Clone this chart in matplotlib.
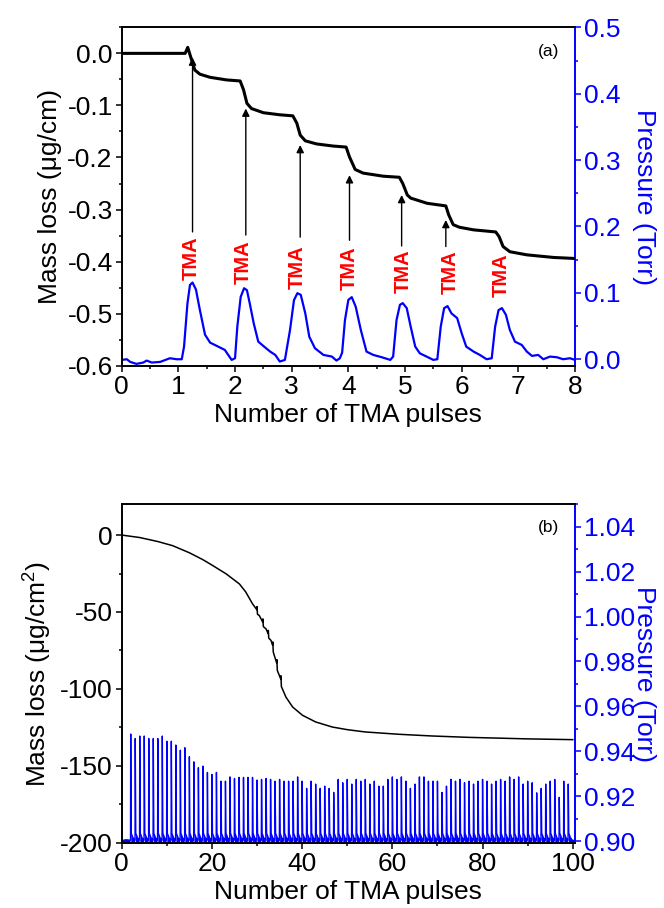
import numpy as np
import matplotlib.pyplot as plt
from matplotlib.ticker import MultipleLocator, FormatStrFormatter

plt.rcParams.update({
    'font.family': ['Liberation Sans', 'DejaVu Sans'],
    'font.size': 19,
    'mathtext.fontset': 'custom',
    'mathtext.rm': 'Liberation Sans',
    'mathtext.default': 'regular',
    'axes.unicode_minus': False,
})

# ---------------- panel (a) data ----------------
mass_a_x = [0, 0.5, 1.0, 1.12, 1.165, 1.235, 1.29, 1.38, 1.56, 1.85, 2.09, 2.15, 2.21, 2.29,
            2.50, 2.79, 3.02, 3.09, 3.15, 3.24, 3.44, 3.73, 3.96, 4.02, 4.12, 4.26, 4.62, 4.90,
            4.96, 5.04, 5.10, 5.39, 5.72, 5.77, 5.85, 5.96, 6.21, 6.60, 6.66, 6.73, 6.85, 7.15,
            7.62, 8.0]
mass_a_y = [0, 0, 0, 0, 0.0115, -0.013, -0.032, -0.040, -0.046, -0.051, -0.053, -0.070, -0.096,
            -0.106, -0.114, -0.118, -0.120, -0.134, -0.157, -0.168, -0.174, -0.178, -0.180,
            -0.199, -0.223, -0.230, -0.236, -0.238, -0.250, -0.272, -0.278, -0.288, -0.293,
            -0.310, -0.329, -0.334, -0.339, -0.343, -0.352, -0.371, -0.381, -0.387, -0.392, -0.394]

press_a_x = [0, 0.09, 0.15, 0.26, 0.38, 0.44, 0.53, 0.68, 0.85, 0.97, 1.06, 1.10, 1.16, 1.205,
             1.25, 1.31, 1.38, 1.47, 1.56, 1.68, 1.82, 1.88, 1.94, 2.0, 2.04, 2.10, 2.16, 2.21,
             2.26, 2.33, 2.41, 2.50, 2.62, 2.71, 2.79, 2.88, 2.97, 3.04, 3.10, 3.16, 3.24, 3.31,
             3.41, 3.56, 3.71, 3.79, 3.85, 3.89, 3.94, 4.0, 4.06, 4.13, 4.22, 4.32, 4.44, 4.59,
             4.74, 4.79, 4.85, 4.91, 4.96, 5.03, 5.10, 5.18, 5.26, 5.38, 5.50, 5.57, 5.63, 5.69,
             5.75, 5.82, 5.92, 6.0, 6.08, 6.21, 6.32, 6.44, 6.53, 6.59, 6.65, 6.71, 6.78, 6.85,
             6.94, 7.06, 7.15, 7.24, 7.35, 7.44, 7.56, 7.68, 7.79, 7.91, 8.0]
press_a_y = [-0.001, 0.0, -0.004, -0.007, -0.005, -0.002, -0.005, -0.004, 0.0015, 0.0, 0.0,
             0.019, 0.084, 0.112, 0.1155, 0.105, 0.074, 0.037, 0.025, 0.020, 0.014, 0.0065,
             -0.001, 0.0015, 0.049, 0.094, 0.107, 0.104, 0.084, 0.054, 0.0265, 0.020, 0.0115,
             0.0065, -0.0035, -0.001, 0.044, 0.089, 0.0995, 0.097, 0.069, 0.034, 0.0166, 0.0065,
             0.004, -0.002, 0.0015, 0.010, 0.059, 0.0895, 0.0935, 0.079, 0.044, 0.0115, 0.0065,
             0.003, -0.001, 0.004, 0.059, 0.082, 0.0845, 0.077, 0.049, 0.019, 0.009, 0.004,
             -0.001, 0.0, 0.049, 0.077, 0.080, 0.069, 0.062, 0.039, 0.019, 0.0115, 0.0065, 0.0,
             0.0015, 0.049, 0.074, 0.077, 0.067, 0.044, 0.0265, 0.0215, 0.0115, 0.005, 0.0065,
             0.0, 0.004, 0.003, 0.0, 0.0015, -0.001]

arrow_x = [1.25, 2.19, 3.15, 4.02, 4.94, 5.72]
arrow_base = [-0.343, -0.349, -0.353, -0.359, -0.370, -0.371]
arrow_tip = [-0.008, -0.106, -0.176, -0.234, -0.272, -0.320]
tma_x = [1.235, 2.15, 3.10, 4.02, 4.97, 5.79, 6.69]
tma_y = [-0.393, -0.401, -0.410, -0.413, -0.418, -0.421, -0.427]

# ---------------- panel (b) data ----------------
mass_b_x = [0, 4, 8, 11.3, 15, 18, 20, 23.2, 26.1, 27.5, 29.0, 29.95, 30.0, 30.1, 30.5,
            31.25, 31.3, 31.4, 32.0, 32.45, 32.5, 32.6, 33.1, 33.45, 33.5, 33.6, 33.8, 34.35,
            34.4, 34.5, 35.25, 35.3, 35.4, 36.4, 37.9, 40.1, 43.0, 46.7, 50, 54, 61.4, 68.7,
            76.8, 90, 100]
mass_b_y = [0, -1.6, -4.2, -6.9, -11.5, -16.0, -19.5, -25.3, -31.8, -37.0, -44.7, -48.5,
            -46.5, -51.5, -52.3, -56.5, -54.5, -59.5, -61.0, -64.0, -62.0, -67.0, -68.5, -71.5,
            -69.5, -76.0, -78.0, -83.0, -81.0, -88.0, -93.5, -91.5, -98.5, -105.3, -111.8,
            -117.2, -121.5, -124.8, -126.5, -128.0, -129.5, -130.6, -131.5, -132.5, -133.0]

pulse_b_first = 2
pulse_b_peaks = [0.9477, 0.9457, 0.9468, 0.9468, 0.9457, 0.9457, 0.9457, 0.9468, 0.9445, 0.9445,
                 0.9428, 0.9405, 0.9416, 0.9376, 0.9353, 0.9327, 0.9334, 0.9306, 0.9297, 0.9306,
                 0.9267, 0.9267, 0.9286, 0.9279, 0.9284, 0.9284, 0.9284, 0.9284, 0.9272, 0.9275,
                 0.9279, 0.9275, 0.9267, 0.9275, 0.9267, 0.9267, 0.9267, 0.9286, 0.9267, 0.9235,
                 0.9267, 0.9254, 0.9235, 0.9245, 0.9235, 0.9217, 0.9275, 0.9260, 0.9275, 0.9254,
                 0.9275, 0.9267, 0.9275, 0.9254, 0.9267, 0.9245, 0.9245, 0.9275, 0.9286, 0.9275,
                 0.9286, 0.9267, 0.9235, 0.9254, 0.9286, 0.9286, 0.9267, 0.9267, 0.9267, 0.9217,
                 0.9245, 0.9275, 0.9267, 0.9275, 0.9260, 0.9267, 0.9254, 0.9267, 0.9275, 0.9267,
                 0.9254, 0.9267, 0.9275, 0.9267, 0.9286, 0.9275, 0.9286, 0.9254, 0.9267, 0.9260,
                 0.9215, 0.9235, 0.9254, 0.9267, 0.9275, 0.9195, 0.9267, 0.9254]

BLUE = '#0000ff'


def style_axes(ax, ax2):
    ax.spines['right'].set_visible(False)
    for s in ['left', 'top', 'bottom']:
        ax.spines[s].set_linewidth(1.4)
        ax2.spines[s].set_visible(False)
    ax2.spines['right'].set_color(BLUE)
    ax2.spines['right'].set_linewidth(1.4)
    ax.tick_params(which='both', direction='out', width=1.1, top=False, right=False)
    ax.tick_params(which='major', length=4.5, pad=2)
    ax.tick_params(which='minor', length=2.5)
    ax2.tick_params(which='both', direction='out', width=1.1, colors=BLUE)
    ax2.tick_params(which='major', length=4.5, pad=2)
    ax2.tick_params(which='minor', length=2.5)
    ax2.yaxis.label.set_verticalalignment('center')
    ax2.yaxis.set_label_coords(1.152, 0.5)


fig = plt.figure(figsize=(6.64, 9.08), dpi=100)

# ---------------- panel (a) ----------------
axa = fig.add_axes([0.1833, 0.5972, 0.6827, 0.3727])
axa2 = axa.twinx()
axa.set_zorder(axa2.get_zorder() + 1)
axa.patch.set_visible(False)

axa.plot(mass_a_x, mass_a_y, color='black', lw=2.2)
axa2.plot(press_a_x, press_a_y, color=BLUE, lw=1.6)

for x, b, t in zip(arrow_x, arrow_base, arrow_tip):
    axa.annotate('', xy=(x, t), xytext=(x, b),
                 arrowprops=dict(arrowstyle='-|>', color='black', lw=1.0,
                                 mutation_scale=11, shrinkA=0, shrinkB=0))
for x, y in zip(tma_x, tma_y):
    axa.text(x, y, 'TMA', rotation=90, ha='center', va='center', color='#ff0000',
             fontsize=14.5, fontweight='bold')

axa.set_xlim(0, 8)
axa.set_ylim(-0.6, 0.05)
axa2.set_ylim(-0.0098, 0.5)
axa.xaxis.set_major_locator(MultipleLocator(1))
axa.xaxis.set_minor_locator(MultipleLocator(0.5))
axa.yaxis.set_major_locator(MultipleLocator(0.1))
axa.yaxis.set_minor_locator(MultipleLocator(0.05))
axa.yaxis.set_major_formatter(FormatStrFormatter('%.1f'))
axa2.yaxis.set_major_locator(MultipleLocator(0.1))
axa2.yaxis.set_minor_locator(MultipleLocator(0.05))
axa2.yaxis.set_major_formatter(FormatStrFormatter('%.1f'))

axa.set_xlabel('Number of TMA pulses', labelpad=3)
axa.set_ylabel('Mass loss (μg/cm)', labelpad=4)
axa2.set_ylabel('Pressure (Torr)', color=BLUE, rotation=270)
style_axes(axa, axa2)
axa.text(0.965, 0.93, '(a)', transform=axa.transAxes, ha='right', va='center', fontsize=12.5)

# ---------------- panel (b) ----------------
axb = fig.add_axes([0.1833, 0.0719, 0.6827, 0.3727])
axb2 = axb.twinx()
axb.set_zorder(axb2.get_zorder() + 1)
axb.patch.set_visible(False)

axb.plot(mass_b_x, mass_b_y, color='black', lw=1.1)

# each pulse drawn as a sharp spike with a short low tail
px, py = [0.0, 1.0], [0.9003, 0.9006]
for i, h in enumerate(pulse_b_peaks):
    x0 = pulse_b_first + i
    px += [x0 - 0.05, x0, x0 + 0.12, x0 + 0.5, x0 + 0.9]
    py += [0.9004, h, 0.9035, 0.9015, 0.9004]
px += [100.5]
py += [0.9002]
axb2.plot(px, py, color=BLUE, lw=1.0)
axb2.fill_between(px, 0.899, py, color=BLUE, lw=0, where=np.array(py) < 0.905)

axb.set_xlim(0, 100.5)
axb.set_ylim(-200, 20)
axb2.set_ylim(0.8993, 1.05)
axb.xaxis.set_major_locator(MultipleLocator(20))
axb.xaxis.set_minor_locator(MultipleLocator(10))
axb.yaxis.set_major_locator(MultipleLocator(50))
axb.yaxis.set_minor_locator(MultipleLocator(25))
axb2.yaxis.set_major_locator(MultipleLocator(0.02))
axb2.yaxis.set_minor_locator(MultipleLocator(0.01))
axb2.yaxis.set_major_formatter(FormatStrFormatter('%.2f'))

axb.set_xlabel('Number of TMA pulses', labelpad=3)
axb.set_ylabel('Mass loss (μg/cm$^{2}$)', labelpad=4)
axb2.set_ylabel('Pressure (Torr)', color=BLUE, rotation=270)
style_axes(axb, axb2)
axb.text(0.965, 0.93, '(b)', transform=axb.transAxes, ha='right', va='center', fontsize=12.5)

fig.savefig('out.png', dpi=100)
